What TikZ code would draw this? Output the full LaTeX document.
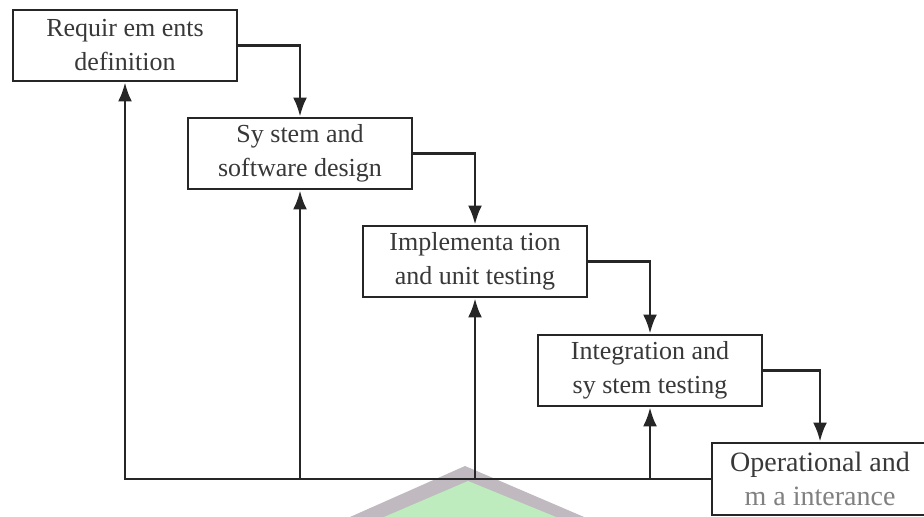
\documentclass[tikz,border=0pt]{standalone}
\usepackage{fontspec}
\setmainfont{Liberation Serif}
\usetikzlibrary{arrows.meta}
\definecolor{wmgreen}{RGB}{190,236,190}
\definecolor{wmgray}{RGB}{192,186,192}
\tikzset{stage/.style={draw=black!85,line width=1.45pt,fill=white,
  minimum width=112pt,minimum height=35.5pt,align=center,text=black!78,
  font=\fontsize{13}{17}\selectfont}}
\tikzset{flow/.style={draw=black!85,line width=1.3pt,
  -{Latex[length=9.5pt,width=7pt]}}}
\begin{document}
\begin{tikzpicture}[x=0.5pt,y=-0.5pt]
      \useasboundingbox (0,0) rectangle (924,517);
      \fill [wmgray] (465,466) -- (584,517) -- (350,517) -- cycle;
      \fill [wmgreen] (468,481) -- (556,517) -- (384,517) -- cycle;
      \node [stage] (req) at (125,45.5) {Requir em ents\\definition};
      \node [stage] (des) at (300,153.5) {Sy stem and\\software design};
      \node [stage] (imp) at (475,261.5) {Implementa tion\\and unit testing};
      \node [stage] (integ) at (650,370.5) {Integration and\\sy stem testing};
      \node [stage,minimum width=108pt,minimum height=36pt,
        font=\fontsize{14}{17}\selectfont] (ops) at (820,479)
        {Operational and\\{\color{black!50}m a interance}};
      \draw [flow] (req.east) -| (des.north);
      \draw [flow] (des.east) -| (imp.north);
      \draw [flow] (imp.east) -| (integ.north);
      \draw [flow] (integ.east) -| (ops.north);
      \draw [flow] (ops.west) -| (req.south);
      \draw [flow] (des.south |- ops.west) -- (des.south);
      \draw [flow] (imp.south |- ops.west) -- (imp.south);
      \draw [flow] (integ.south |- ops.west) -- (integ.south);
    \end{tikzpicture}
\end{document}
